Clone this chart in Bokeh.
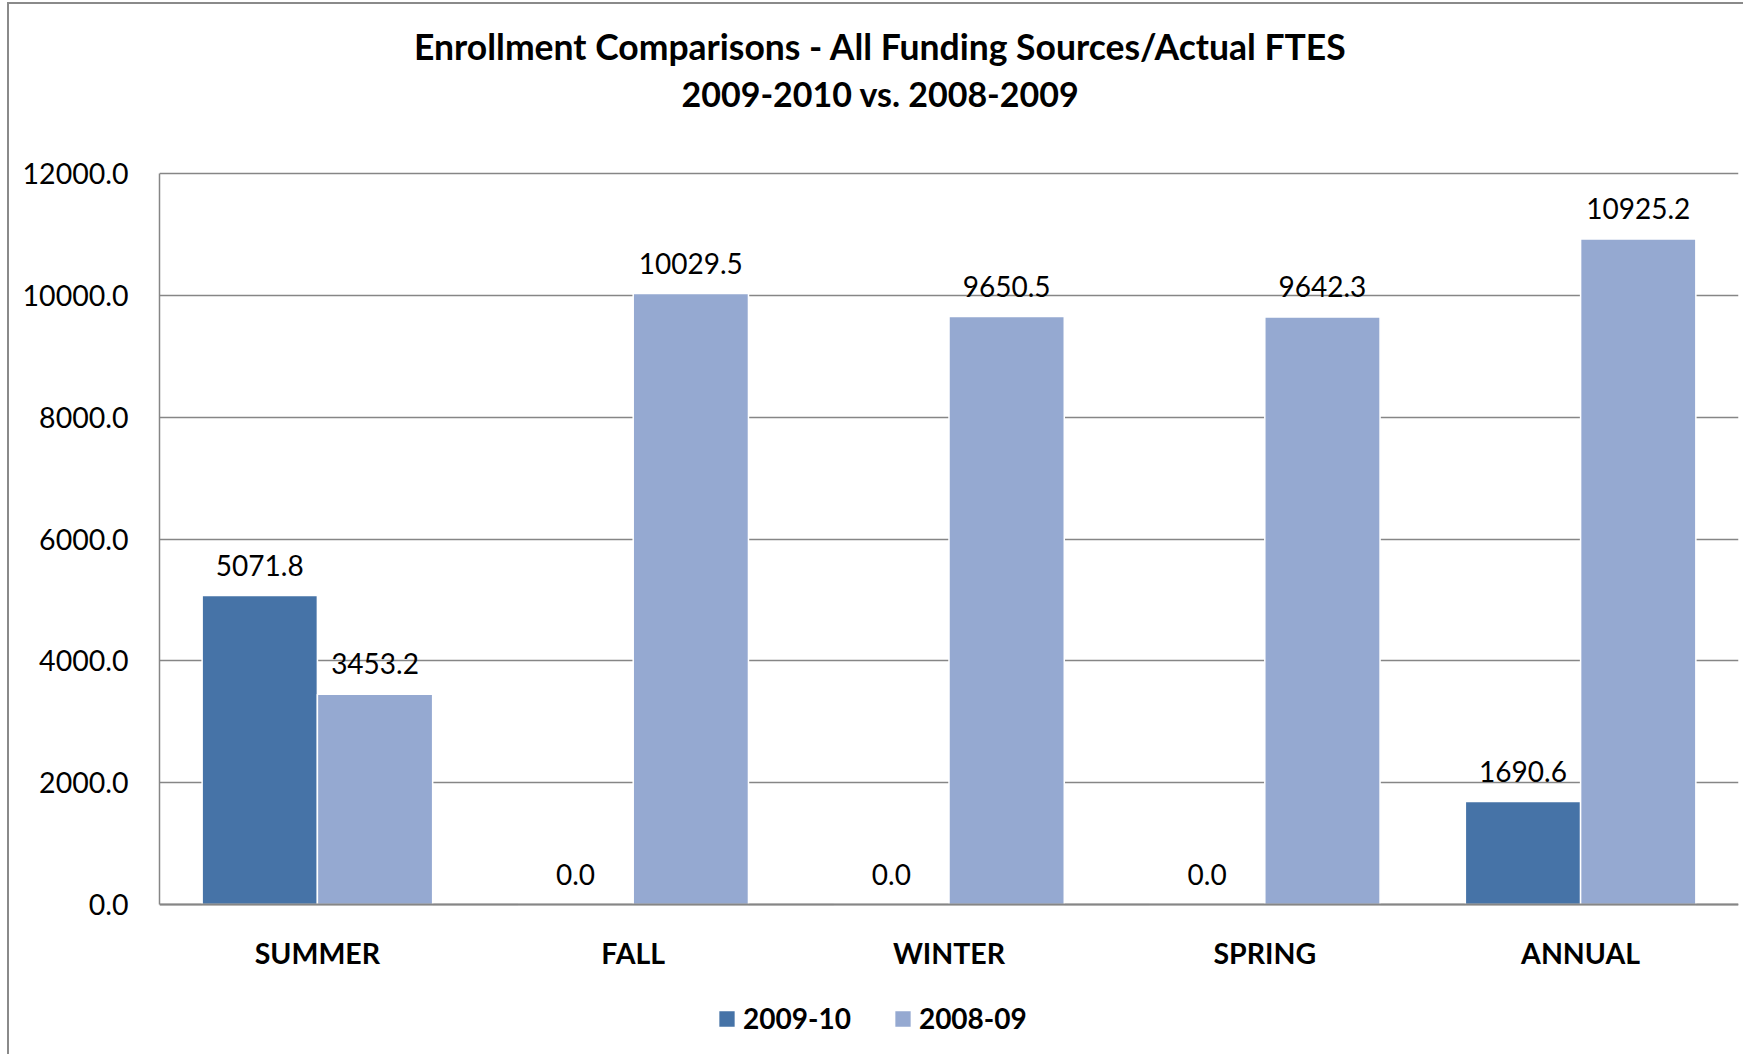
from bokeh.plotting import figure
from bokeh.models import (ColumnDataSource, FactorRange, Range1d, Label, Legend,
                          LegendItem, NumeralTickFormatter, FixedTicker)
from bokeh.transform import dodge
from bokeh.embed import file_html
from bokeh.resources import INLINE
from bokeh.core.properties import value

# ---- data ----
categories = ["SUMMER", "FALL", "WINTER", "SPRING", "ANNUAL"]
series_names = ["2009-10", "2008-09"]
fte_2009_10 = [5071.8, 0.0, 0.0, 0.0, 1690.6]
fte_2008_09 = [3453.2, 10029.5, 9650.5, 9642.3, 10925.2]
y_ticks = [0, 2000, 4000, 6000, 8000, 10000, 12000]
title_line1 = "Enrollment Comparisons - All Funding Sources/Actual FTES"
title_line2 = "2009-2010 vs. 2008-2009"

# ---- style / layout (pixels) ----
FONT = "Lato"
DARK = "#4673A7"
LIGHT = "#95A9D1"
GRAY = "#868686"
W_PX, H_PX = 1736, 1052
LEFT_PX, RIGHT_PX = 150, 7
AXIS_TOP_PX, AXIS_ZERO_PX = 169, 900     # canvas rows of 12000 and 0
Y_MAX = y_ticks[-1]
k = (AXIS_ZERO_PX - AXIS_TOP_PX) / Y_MAX
y_start = -(H_PX - AXIS_ZERO_PX) / k
y_end = Y_MAX + AXIS_TOP_PX / k

src = ColumnDataSource(dict(
    cat=categories,
    a=fte_2009_10,
    b=fte_2008_09,
    la=[f"{v:.1f}" for v in fte_2009_10],
    lb=[f"{v:.1f}" for v in fte_2008_09],
))

p = figure(x_range=FactorRange(*categories), y_range=Range1d(y_start, y_end),
           width=W_PX, height=H_PX, output_backend="svg", toolbar_location=None,
           title=None, min_border_left=LEFT_PX, min_border_right=RIGHT_PX,
           min_border_top=0, min_border_bottom=0)
p.styles = {"margin-left": "7px", "margin-top": "2px",
            "border-left": "2px solid #8a8a8a", "border-top": "2px solid #8a8a8a"}
p.outline_line_color = None
p.background_fill_color = "white"
p.border_fill_color = "white"

OFF = 0.1825
W = 0.365
r1 = p.vbar(x=dodge("cat", -OFF, range=p.x_range), top="a", width=W, source=src,
            fill_color=DARK, line_color="white", line_width=1.5)
r2 = p.vbar(x=dodge("cat", OFF, range=p.x_range), top="b", width=W, source=src,
            fill_color=LIGHT, line_color="white", line_width=1.5)

for col, lab, off in (("a", "la", -OFF), ("b", "lb", OFF)):
    p.text(x=dodge("cat", off, range=p.x_range), y=col, text=lab, source=src,
           text_align="center", text_baseline="bottom", y_offset=-20,
           text_font=value(FONT), text_font_size="28px", text_color="black")

# titles (screen units, relative to the frame's bottom-left)
for txt, ypx, fs in ((title_line1, H_PX - 42, "35.5px"), (title_line2, H_PX - 89, "34px")):
    p.add_layout(Label(x=721, y=ypx, x_units="screen", y_units="screen", text=txt,
                       text_align="center", text_baseline="middle",
                       text_font=FONT, text_font_size=fs,
                       text_font_style="bold", text_color="black"))

# axes
p.yaxis.ticker = FixedTicker(ticks=y_ticks)
p.yaxis.bounds = (0, Y_MAX)
p.yaxis.formatter = NumeralTickFormatter(format="0.0")
p.yaxis.axis_line_color = GRAY
p.yaxis.axis_line_width = 1.5
p.yaxis.major_tick_line_color = None
p.yaxis.minor_tick_line_color = None
p.yaxis.major_label_text_font = FONT
p.yaxis.major_label_text_font_size = "28.5px"
p.yaxis.major_label_text_color = "black"
p.yaxis.major_label_standoff = 25

p.xaxis.fixed_location = 0
p.xaxis.axis_line_color = GRAY
p.xaxis.axis_line_width = 2
p.xaxis.major_tick_line_color = None
p.xaxis.minor_tick_line_color = None
p.xaxis.major_label_text_font = FONT
p.xaxis.major_label_text_font_size = "28.5px"
p.xaxis.major_label_text_font_style = "bold"
p.xaxis.major_label_text_color = "black"
p.xaxis.major_label_standoff = 25

p.xgrid.grid_line_color = None
p.ygrid.ticker = FixedTicker(ticks=y_ticks)
p.ygrid.grid_line_color = GRAY
p.ygrid.grid_line_width = 1.5

legend = Legend(items=[LegendItem(label=series_names[0], renderers=[r1]),
                       LegendItem(label=series_names[1], renderers=[r2])],
                orientation="horizontal", location=(557, 21),
                glyph_width=21, glyph_height=21, label_standoff=6, spacing=41,
                padding=0, margin=0, border_line_color=None,
                background_fill_alpha=0,
                label_text_font=FONT, label_text_font_size="28px",
                label_text_font_style="bold", label_text_color="black")
p.add_layout(legend, "center")

open("out.html", "w").write(file_html(p, INLINE))
